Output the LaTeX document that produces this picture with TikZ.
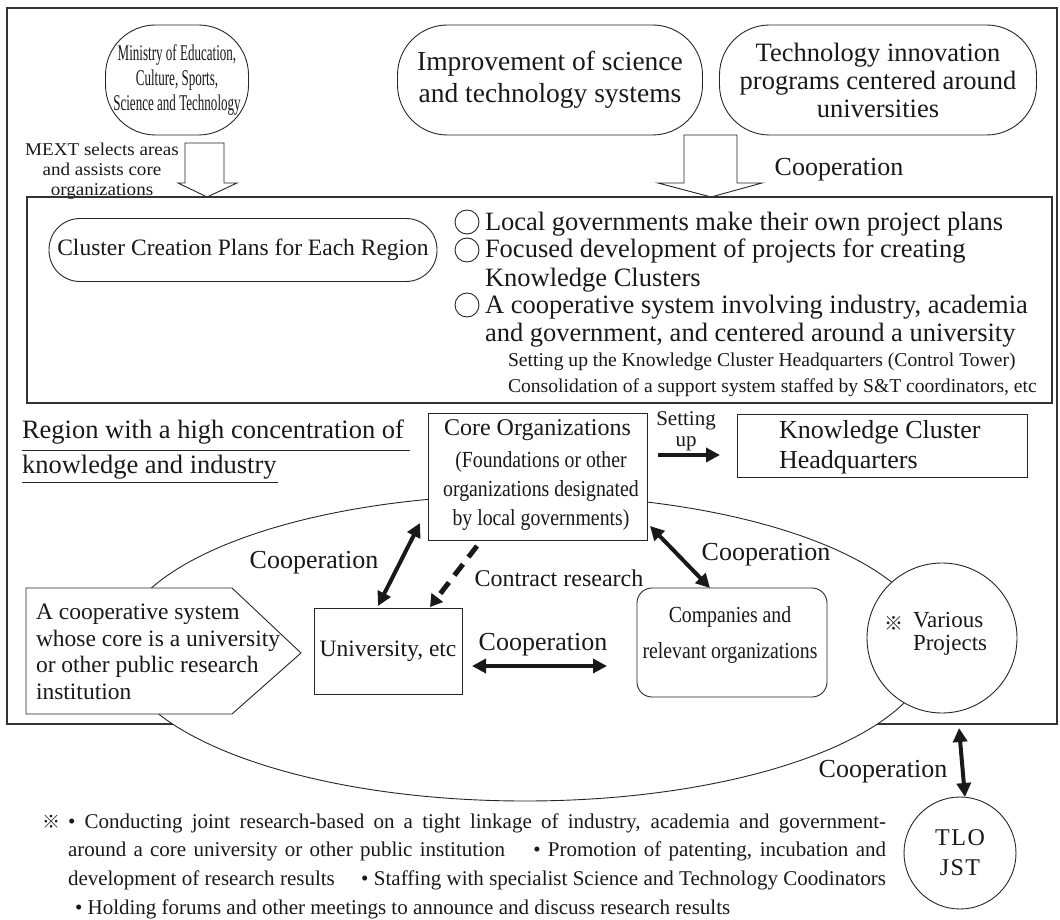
\documentclass[tikz,border=0pt]{standalone}
\usepackage{fontspec}
\setmainfont{Liberation Serif}
\newfontfamily\condA[FakeStretch=0.58]{Liberation Serif}
\newfontfamily\condB[FakeStretch=0.86]{Liberation Serif}
\newfontfamily\wideA[FakeStretch=1.06]{Liberation Serif}
\newfontfamily\cjkfont{Noto Sans CJK JP}
\usetikzlibrary{arrows.meta,shapes.geometric,calc}
\newcommand\fsz[2]{\fontsize{#1}{#2}\selectfont}
\begin{document}
\begin{tikzpicture}[x=1pt,y=-1pt,
  every node/.style={inner sep=0pt, outer sep=0pt, text=black!90},
  frame/.style={draw=black!80, line width=1.1pt},
  shp/.style={draw=black!85, line width=0.9pt, fill=white},
  oval/.style={shp, rectangle, rounded corners=#1},
  blockarrow/.style={draw=black!85, line width=0.9pt, fill=white},
  biarrow/.style={line width=4pt, draw=black!90, {Triangle[length=14pt,width=14pt]}-{Triangle[length=14pt,width=14pt]}},
  onearrow/.style={line width=4pt, draw=black!90, -{Triangle[length=14pt,width=14pt]}},
  dasharrow/.style={line width=5pt, draw=black!90, dash pattern=on 14pt off 9pt, -{Triangle[length=12pt,width=14pt]}},
  lab/.style={font=\fsz{26}{30}},
  bul/.style={circle, draw=black!85, line width=0.9pt, minimum size=24pt},
  uline/.style={line width=0.9pt, draw=black!85},
]
\useasboundingbox (0,0) rectangle (1060,920);

% outer frame
\draw[frame] (7,8) rectangle (1057,724);

% top ovals
\node[oval=50pt, minimum width=143pt, minimum height=110pt, align=center, font=\condA\fsz{22.5}{25}] (min) at (177,80) {Ministry of Education,\\Culture, Sports,\\Science and Technology};
\node[oval=50pt, minimum width=305pt, minimum height=110pt, align=center, font=\fsz{27.5}{32}] (imp) at (550,80) {Improvement of science\\and technology systems};
\node[oval=50pt, minimum width=317pt, minimum height=110pt, align=center, font=\fsz{26.5}{28}] (tech) at (878,80) {Technology innovation\\programs centered around\\universities};

% block arrows
\draw[blockarrow] (185,143) -- (224,143) -- (224,183) -- (237,183) -- (207,197) -- (178,183) -- (185,183) -- cycle;
\draw[blockarrow] (684,135) -- (737,135) -- (737,183) -- (762,183) -- (711,197) -- (658,183) -- (684,183) -- cycle;
\node[align=center, font=\wideA\fsz{18}{20}] (mext) at (102,171) {MEXT selects areas\\and assists core\\organizations};
\node[lab] (coopA) at (839,170) {Cooperation};

% plan box
\node[frame, minimum width=1025pt, minimum height=206pt] (plan) at (539.5,300) {};
\node[oval=31pt, minimum width=388pt, minimum height=63pt, font=\fsz{23.5}{28}] (ccp) at (243,250) {Cluster Creation Plans for Each Region};
\node[bul] (b1) at (467,222) {};
\node[bul] (b2) at (467,250) {};
\node[bul] (b3) at (467,305) {};
\node[anchor=base west, font=\fsz{26.5}{30}] (t1) at (485,230) {Local governments make their own project plans};
\node[anchor=base west, font=\fsz{26.5}{30}] (t2) at (485,258) {Focused development of projects for creating};
\node[anchor=base west, font=\fsz{26.5}{30}] (t3) at (485,286) {Knowledge Clusters};
\node[anchor=base west, font=\fsz{26.5}{30}] (t4) at (485,313) {A cooperative system involving industry, academia};
\node[anchor=base west, font=\fsz{26.5}{30}] (t5) at (485,341) {and government, and centered around a university};
\node[anchor=base west, font=\fsz{19.6}{24}] (t6) at (508,366) {Setting up the Knowledge Cluster Headquarters (Control Tower)};
\node[anchor=base west, font=\fsz{19.6}{24}] (t7) at (508,392) {Consolidation of a support system staffed by S\&T coordinators, etc};

% region text
\node[anchor=base west, font=\fsz{26.5}{30}] (reg1) at (22,438) {Region with a high concentration of};
\node[anchor=base west, font=\fsz{26.5}{30}] (reg2) at (22,473) {knowledge and industry};
\draw[uline] (reg1.base west) ++(0,12) -- ++(388,0);
\draw[uline] (reg2.base west) ++(0,9) -- ++(256,0);

% region ellipse
\node[ellipse, draw=black!85, line width=0.9pt, fill=white, minimum width=812pt, minimum height=306pt] (region) at (525,648) {};

% pentagon
\draw[shp] (26,588) -- (232,588) -- (301,653) -- (232,714) -- (26,714) -- cycle;
\node[anchor=west, align=left, font=\fsz{23.5}{26.5}] (pentT) at (36,652) {A cooperative system\\whose core is a university\\or other public research\\institution};

% core organizations
\node[shp, minimum width=219pt, minimum height=127pt] (core) at (537.5,476.5) {};
\node[font=\fsz{24}{28}] (coreT) at (537.5,430) {Core Organizations};
\node[font=\condB\fsz{23}{29}, align=center] (coreS) at (541,491) {(Foundations or other\\organizations designated\\by local governments)};

% setting up / KCH
\node[font=\fsz{21}{21}, align=center] (setup) at (686,431) {Setting\\up};
\node[shp, minimum width=290pt, minimum height=63pt] (kch) at (882,445.5) {};
\node[anchor=west, align=left, font=\fsz{26}{30}] (kchT) at (779,447) {Knowledge Cluster\\Headquarters};

% university, companies
\node[shp, minimum width=148pt, minimum height=86pt, font=\fsz{23.5}{28}] (uni) at (388,651) {University, etc};
\node[oval=15pt, minimum width=190pt, minimum height=109pt] (comp) at (732,642.5) {};
\node[font=\condB\fsz{23}{36}, align=center] (compT) at (730,635) {Companies and\\relevant organizations};

% various projects
\node[shp, circle, minimum size=150pt] (vp) at (942,638) {};
\node[font=\cjkfont\fsz{19}{22}] (vpM) at (894,623) {※};
\node[anchor=west, align=left, font=\fsz{23}{23}] (vpT) at (913,634) {Various\\Projects};

% TLO JST
\node[shp, circle, minimum size=112pt, align=center, font=\fsz{24}{30}] (tlo) at (960,853) {T\kern1.5pt L\kern1.5pt O\\J\kern1.5pt S\kern1.5pt T};

% arrows
\draw[biarrow] ($(core.south west)+(-8,-17)$) -- ($(uni.north)+(-10,-2)$);
\draw[dasharrow] ($(core.south west)+(49,6)$) -- ($(uni.north east)+(-32,-1)$);
\draw[biarrow] ($(core.south east)+(3,-14)$) -- ($(comp.north)+(-22,0)$);
\draw[biarrow] ($(uni.east)+(10,15)$) -- ($(comp.west)+(-30,23.5)$);
\draw[onearrow] ($(core.east)+(11,-21.5)$) -- ($(kch.west)+(-17,9.5)$);
\draw[biarrow] ($(vp.south)+(17,15)$) -- ($(tlo.north)+(5,0)$);

% labels
\node[lab] (coopB) at (314,563) {Cooperation};
\node[lab] (coopC) at (543,645) {Cooperation};
\node[lab] (coopD) at (766,555) {Cooperation};
\node[lab] (coopE) at (883,772) {Cooperation};
\node[font=\fsz{24}{28}] (contract) at (559,578) {Contract research};

% footnote
\node[font=\cjkfont\fsz{18}{20}] (noteM) at (51,822) {※};
\node[anchor=base west, font=\fsz{21}{29}] (n1) at (68,828) {\makebox[818pt][s]{• Conducting joint research-based on a tight linkage of industry, academia and government-}};
\node[anchor=base west, font=\fsz{21}{29}] (n2) at (68,856) {\makebox[818pt][s]{around a core university or other public institution\hspace{1em} • Promotion of patenting, incubation and}};
\node[anchor=base west, font=\fsz{21}{29}] (n3) at (68,885) {\makebox[818pt][s]{development of research results\hspace{1em} • Staffing with specialist Science and Technology Coodinators}};
\node[anchor=base west, font=\fsz{21}{29}] (n4) at (75,914) {• Holding forums and other meetings to announce and discuss research results};
\end{tikzpicture}
\end{document}
